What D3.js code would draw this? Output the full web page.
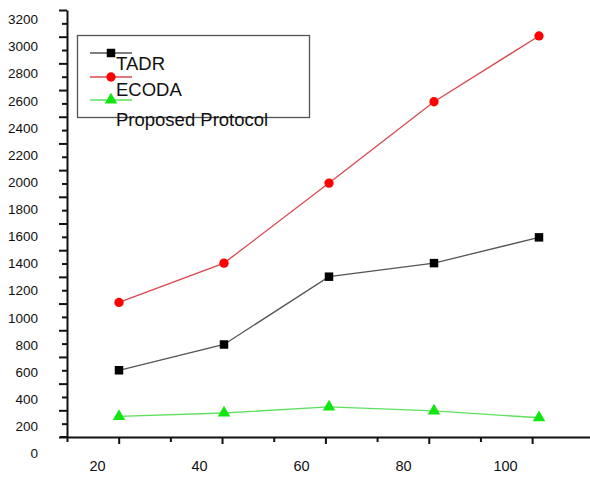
<!DOCTYPE html>
<html>
<head>
<meta charset="utf-8">
<script src="https://d3js.org/d3.v7.min.js"></script>
<style>
  body { margin: 0; background: #fff; }
  text { font-family: "Liberation Sans", Arial, sans-serif; }
</style>
</head>
<body>
<script>
// data
var xValues = [20, 40, 60, 80, 100];
var tadr = [610, 800, 1300, 1400, 1590];
var ecoda = [1110, 1400, 1990, 2590, 3075];
var proposed = [270, 295, 340, 310, 260];
var seriesNames = ["TADR", "ECODA", "Proposed Protocol"];
var yTickLabels = d3.range(0, 3201, 200);
var xTickLabels = [20, 40, 60, 80, 100];

function plotTheData() {
    var svgWidth = 590;
    var svgHeight = 482;

    var svg = d3.select("body")
        .append("svg")
        .attr("width", svgWidth)
        .attr("height", svgHeight);

    // data scales (the printed labels sit a bit off the tick marks)
    var x = d3.scaleLinear().domain([20, 100]).range([119, 539]);
    var y = d3.scaleLinear().domain([0, 3200]).range([453, 19]);

    // scales for the tick marks and the label positions
    var xTick = d3.scaleLinear().domain([10, 111.2]).range([67, 590]);
    var xLabel = d3.scaleLinear().domain([20, 100]).range([97, 505]);
    var yTick = d3.scaleLinear().domain([0, 3200]).range([437, 10]);

    // y axis: major and minor marks
    svg.append("g")
        .attr("transform", "translate(67,0)")
        .call(d3.axisLeft(yTick).tickValues(d3.range(0, 3201, 200)).tickSize(8).tickSizeOuter(0).tickFormat(""))
        .call(g => g.selectAll("path, line").attr("stroke", "#111").attr("stroke-width", 2));
    svg.append("g")
        .attr("transform", "translate(67,0)")
        .call(d3.axisLeft(yTick).tickValues(d3.range(100, 3200, 200)).tickSize(5).tickFormat(""))
        .call(g => g.select(".domain").remove())
        .call(g => g.selectAll("line").attr("stroke", "#111").attr("stroke-width", 2));

    // y labels
    svg.append("g")
        .attr("transform", "translate(38,0)")
        .call(d3.axisLeft(y).tickValues(yTickLabels).tickSize(0).tickPadding(0).tickFormat(d3.format("d")))
        .call(g => g.select(".domain").remove())
        .call(g => g.selectAll("text")
            .attr("font-size", 13.5)
            .attr("font-family", "Liberation Sans, Arial, sans-serif")
            .attr("fill", "#111")
            .attr("dy", "0.35em"));

    // x axis: major and minor marks
    svg.append("g")
        .attr("transform", "translate(0,437)")
        .call(d3.axisBottom(xTick).tickValues(xTickLabels).tickSize(7).tickSizeOuter(0).tickFormat(""))
        .call(g => g.selectAll("path, line").attr("stroke", "#111").attr("stroke-width", 2));
    svg.append("g")
        .attr("transform", "translate(0,437)")
        .call(d3.axisBottom(xTick).tickValues([10, 30, 50, 70, 90]).tickSize(5).tickFormat(""))
        .call(g => g.select(".domain").remove())
        .call(g => g.selectAll("line").attr("stroke", "#111").attr("stroke-width", 2));
    // extend the x axis line left to the y tick ends
    svg.append("line")
        .attr("x1", 60).attr("x2", 67)
        .attr("y1", 437).attr("y2", 437)
        .attr("stroke", "#111").attr("stroke-width", 2);

    // x labels
    svg.append("g")
        .attr("transform", "translate(0,471)")
        .call(d3.axisBottom(xLabel).tickValues(xTickLabels).tickSize(0).tickPadding(0).tickFormat(d3.format("d")))
        .call(g => g.select(".domain").remove())
        .call(g => g.selectAll("text")
            .attr("font-size", 14.5)
            .attr("font-family", "Liberation Sans, Arial, sans-serif")
            .attr("fill", "#111")
            .attr("dy", 0));

    var series = [
        { name: seriesNames[0], values: tadr, line: "#555", fill: "#000", shape: d3.symbolSquare, size: 72 },
        { name: seriesNames[1], values: ecoda, line: "#d9484f", fill: "#f00", shape: d3.symbolCircle, size: 68 },
        { name: seriesNames[2], values: proposed, line: "#5ee05e", fill: "#12e612", shape: d3.symbolTriangle, size: 68 }
    ];

    var line = d3.line()
        .x((d, i) => x(xValues[i]))
        .y(d => y(d));

    // lines and markers
    series.forEach(function (s) {
        svg.append("path")
            .datum(s.values)
            .attr("d", line)
            .attr("fill", "none")
            .attr("stroke", s.line)
            .attr("stroke-width", 1.3);

        svg.append("g")
            .selectAll("path")
            .data(s.values)
            .enter()
            .append("path")
            .attr("d", d3.symbol().type(s.shape).size(s.size))
            .attr("transform", (d, i) => `translate(${x(xValues[i])},${y(d)})`)
            .attr("fill", s.fill);
    });

    // legend
    var legend = svg.append("g");
    legend.append("rect")
        .attr("x", 77.5).attr("y", 35.5)
        .attr("width", 232).attr("height", 82)
        .attr("fill", "none")
        .attr("stroke", "#555")
        .attr("stroke-width", 1.3);

    var legendY = [53, 77, 100];
    var legendTextY = [70, 96, 126];
    series.forEach(function (s, i) {
        legend.append("line")
            .attr("x1", 90).attr("x2", 132)
            .attr("y1", legendY[i]).attr("y2", legendY[i])
            .attr("stroke", s.line)
            .attr("stroke-width", 1.3);
        legend.append("path")
            .attr("d", d3.symbol().type(s.shape).size(s.size))
            .attr("transform", `translate(111,${legendY[i]})`)
            .attr("fill", s.fill);
        legend.append("text")
            .attr("x", 116)
            .attr("y", legendTextY[i])
            .attr("font-size", 18.5)
            .attr("fill", "#111")
            .text(s.name);
    });
}

plotTheData();
</script>
</body>
</html>
